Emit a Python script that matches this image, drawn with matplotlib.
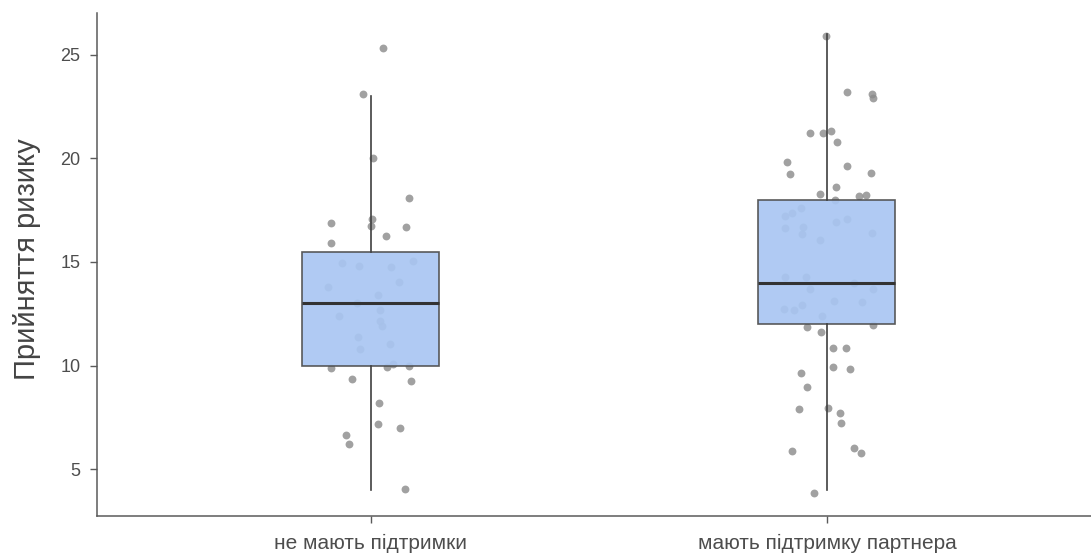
import matplotlib.pyplot as plt

plt.rcParams['font.family'] = ['Liberation Sans', 'DejaVu Sans']

groups = ['не мають підтримки', 'мають підтримку партнера']

# box statistics: whisker low, Q1, median, Q3, whisker high
box_stats = [
    [4, 10, 13, 15.5, 23],
    [4, 12, 14, 18, 26],
]

# jittered observations: horizontal offset from group centre, value
g1_dx = [0.026, -0.017, 0.005, 0.084, -0.088, 0.002, 0.001, 0.078, 0.033, -0.088,
         -0.063, -0.026, 0.044, 0.093, 0.061, -0.094, 0.015, -0.030, 0.020, -0.070,
         0.020, 0.025, -0.028, 0.042, -0.024, -0.086, 0.036, 0.049, 0.083, -0.041,
         0.088, 0.018, 0.015, 0.065, -0.055, -0.048, 0.075]
g1_y = [25.32, 23.10, 20.04, 18.08, 16.90, 17.06, 16.74, 16.68, 16.27, 15.90,
        14.97, 14.81, 14.74, 15.05, 14.03, 13.78, 13.41, 13.00, 12.68, 12.41,
        12.15, 11.91, 11.36, 11.03, 10.80, 9.87, 9.95, 10.06, 9.98, 9.35,
        9.24, 8.17, 7.16, 6.97, 6.63, 6.22, 4.02]

g2_dx = [-0.001, 0.043, 0.098, 0.102, -0.037, -0.009, 0.010, 0.023, -0.088, -0.081,
         0.045, 0.096, 0.020, -0.015, 0.071, 0.086, 0.018, -0.057, -0.077, -0.091,
         0.045, 0.021, -0.092, -0.053, -0.055, -0.015, 0.099, -0.091, -0.046, -0.036,
         0.059, 0.100, -0.094, -0.072, -0.055, 0.016, 0.077, -0.010, -0.043, 0.102,
         -0.012, 0.013, 0.041, 0.013, 0.050, -0.057, -0.043, -0.061, 0.002, 0.029,
         0.032, -0.077, 0.060, 0.074, -0.029]
g2_y = [25.92, 23.20, 23.12, 22.94, 21.25, 21.25, 21.33, 20.81, 19.85, 19.24,
        19.65, 19.31, 18.61, 18.27, 18.20, 18.24, 18.00, 17.62, 17.35, 17.23,
        17.08, 16.92, 16.63, 16.71, 16.35, 16.06, 16.42, 14.29, 14.29, 13.70,
        13.97, 13.70, 12.71, 12.68, 12.92, 13.13, 13.08, 12.39, 11.85, 11.96,
        11.60, 10.86, 10.86, 9.95, 9.83, 9.65, 8.98, 7.89, 7.96, 7.72,
        7.23, 5.87, 6.00, 5.79, 3.84]

fig = plt.figure(figsize=(10.91, 5.56), dpi=100)
ax = fig.add_axes([0.0889, 0.0719, 0.9199, 0.9052])

# points first, box drawn over them
for i, (dx, ys) in enumerate([(g1_dx, g1_y), (g2_dx, g2_y)]):
    xs = [i + 1 + d for d in dx]
    ax.scatter(xs, ys, s=32, color='#8a8a8a', alpha=0.8, linewidths=0, zorder=1)

stats = []
for lo, q1, med, q3, hi in box_stats:
    stats.append({'whislo': lo, 'q1': q1, 'med': med, 'q3': q3, 'whishi': hi, 'fliers': []})

ax.bxp(stats, positions=[1, 2], widths=0.3, patch_artist=True, showcaps=False,
       boxprops=dict(facecolor='#a9c6f2', edgecolor='#4d4d4d', linewidth=1.2, alpha=0.92),
       whiskerprops=dict(color='#404040', linewidth=1.2),
       medianprops=dict(color='#333333', linewidth=2.2),
       zorder=2)

ax.set_xlim(0.4, 2.6)
ax.set_ylim(2.73, 27.04)
ax.set_xticks([1, 2])
ax.set_xticklabels(groups)
ax.set_yticks([5, 10, 15, 20, 25])

ax.set_ylabel('Прийняття ризику', fontsize=21, color='#444444')
ax.yaxis.set_label_coords(-0.056, 0.51)

for side in ['top', 'right']:
    ax.spines[side].set_visible(False)
for side in ['left', 'bottom']:
    ax.spines[side].set_color('#5a5a5a')
    ax.spines[side].set_linewidth(1.1)

ax.tick_params(axis='both', colors='#5a5a5a', labelcolor='#4d4d4d',
               length=5, width=1.0)
ax.tick_params(axis='y', labelsize=13, pad=7)
ax.tick_params(axis='x', labelsize=15, pad=8)

fig.savefig('out.png', dpi=100)
